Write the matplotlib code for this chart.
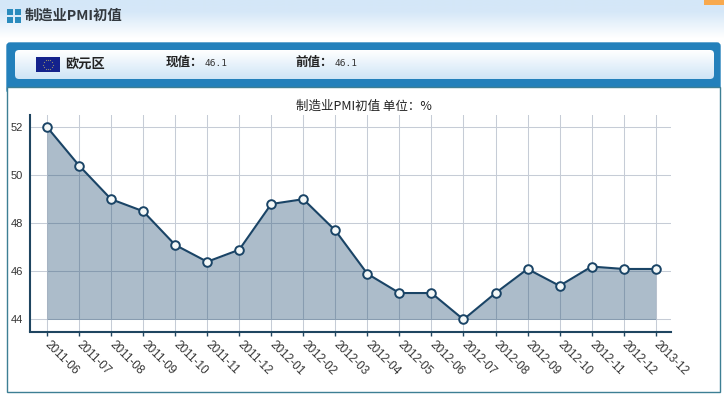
import numpy as np
import matplotlib
matplotlib.use('Agg')
import matplotlib.pyplot as plt
from matplotlib.patches import Rectangle, FancyBboxPatch

plt.rcParams['font.family'] = ['Noto Sans CJK SC', 'DejaVu Sans']

months = ['2011-06', '2011-07', '2011-08', '2011-09', '2011-10', '2011-11', '2011-12',
          '2012-01', '2012-02', '2012-03', '2012-04', '2012-05', '2012-06', '2012-07',
          '2012-08', '2012-09', '2012-10', '2012-11', '2012-12', '2013-12']
pmi = [52, 50.4, 49, 48.5, 47.1, 46.4, 46.9, 48.8, 49, 47.7,
       45.9, 45.1, 45.1, 44, 45.1, 46.1, 45.4, 46.2, 46.1, 46.1]
y_ticks = [44, 46, 48, 50, 52]

W, H = 724, 394
fig = plt.figure(figsize=(W / 100, H / 100), dpi=100)

# page furniture, drawn in pixel coordinates
bg = fig.add_axes([0, 0, 1, 1])
bg.set_xlim(0, W)
bg.set_ylim(H, 0)
bg.axis('off')

def gradient(ax, x0, x1, y0, y1, c0, c1, zorder=1):
    c0 = np.array(matplotlib.colors.to_rgb(c0))
    c1 = np.array(matplotlib.colors.to_rgb(c1))
    t = np.linspace(0, 1, 64)[:, None, None]
    ax.imshow(c0 + (c1 - c0) * t, extent=[x0, x1, y1, y0], aspect='auto', zorder=zorder)

gradient(bg, 0, W, 0, 12, '#d4e7f8', '#d6e8f8')
gradient(bg, 0, W, 12, 38, '#d6e8f8', '#ffffff')
bg.add_patch(Rectangle((704, 0), 20, 5, fc='#f8a94e', lw=0, zorder=2))

# blue header frame and the box under it
bg.add_patch(FancyBboxPatch((7, 43), 713, 50, boxstyle='round,pad=0,rounding_size=3',
                            fc='#2380bb', ec='#2380bb', lw=1, zorder=2))
bg.add_patch(Rectangle((6.5, 87), 713.5, 305, fc='white', ec='#3d7f94', lw=1, zorder=3))
clip = FancyBboxPatch((15, 50), 699, 29, boxstyle='round,pad=0,rounding_size=4',
                      fc='none', ec='none', zorder=4)
bg.add_patch(clip)
gradient(bg, 15, 714, 50, 79, '#ffffff', '#cfe5f6', zorder=4)
bg.images[-1].set_clip_path(clip)
bg.set_xlim(0, W)
bg.set_ylim(H, 0)

# title icon
for ix, iy in [(7, 9), (14.5, 9), (7, 16.5), (14.5, 16.5)]:
    bg.add_patch(Rectangle((ix, iy), 6.3, 6.3, fc='#2a8bbd', lw=0, zorder=5))
bg.text(25, 15.5, '制造业PMI初值', fontsize=10.3, fontweight='bold', color='#33393f',
        ha='left', va='center', zorder=5)

# flag
bg.add_patch(Rectangle((36, 57), 24, 15, fc='#14228c', lw=0, zorder=5))
ang = np.linspace(0, 2 * np.pi, 12, endpoint=False)
bg.scatter(48 + 4.8 * np.cos(ang), 64.5 + 4.8 * np.sin(ang), s=0.8, color='#8f8a70',
           linewidths=0, zorder=6)

bg.text(65, 63.5, '欧元区', fontsize=9.5, fontweight='bold', color='#222222', va='center', zorder=5)
bg.text(166, 62.5, '现值：', fontsize=9, fontweight='bold', color='#222222', va='center', zorder=5)
bg.text(205, 63.5, '46.1', fontsize=6.8, color='#333333', va='center', family='DejaVu Sans Mono', zorder=5)
bg.text(296, 62.5, '前值：', fontsize=9, fontweight='bold', color='#222222', va='center', zorder=5)
bg.text(335, 63.5, '46.1', fontsize=6.8, color='#333333', va='center', family='DejaVu Sans Mono', zorder=5)

# chart
left, right, top, bottom = 30, 671, 115, 331.5
ax = fig.add_axes([left / W, 1 - bottom / H, (right - left) / W, (bottom - top) / H])
ax.patch.set_alpha(0)
x = np.arange(len(months))
step = 32.05
unit = 24.06
ax.set_xlim(-17 / step, 19 + (right - 655.7) / step)
ax.set_ylim(44 - 12 / unit, 52 + 12 / unit)

ax.grid(True, color='#c6ccd6', lw=0.75)
ax.set_axisbelow(True)
ax.fill_between(x, pmi, 44, color='#1e4a70', alpha=0.37, lw=0, zorder=2)
ax.plot(x, pmi, color='#1a4466', lw=1.5, zorder=3, marker='o', ms=6.2,
        mfc='#f4f8f8', mec='#1a4466', mew=1.4, clip_on=False)

ax.set_xticks(x)
ax.set_xticklabels(months, rotation=-45, ha='left', va='center', rotation_mode='anchor',
                   fontsize=8.5, color='#333333', family='Liberation Sans')
ax.set_yticks(y_ticks)
ax.set_yticklabels([str(v) for v in y_ticks], fontsize=8, color='#333333', family='Liberation Sans')
ax.tick_params(axis='x', length=3, width=1, color='#1f4560', pad=5.5)
ax.tick_params(axis='y', length=0, pad=5)

for s in ['top', 'right']:
    ax.spines[s].set_visible(False)
for s in ['left', 'bottom']:
    ax.spines[s].set_color('#1f4560')
    ax.spines[s].set_linewidth(1.5)

bg.text(364, 106.5, '制造业PMI初值 单位：%', fontsize=9, color='#222222',
        ha='center', va='center', zorder=5)

fig.savefig('out.png', dpi=100)
